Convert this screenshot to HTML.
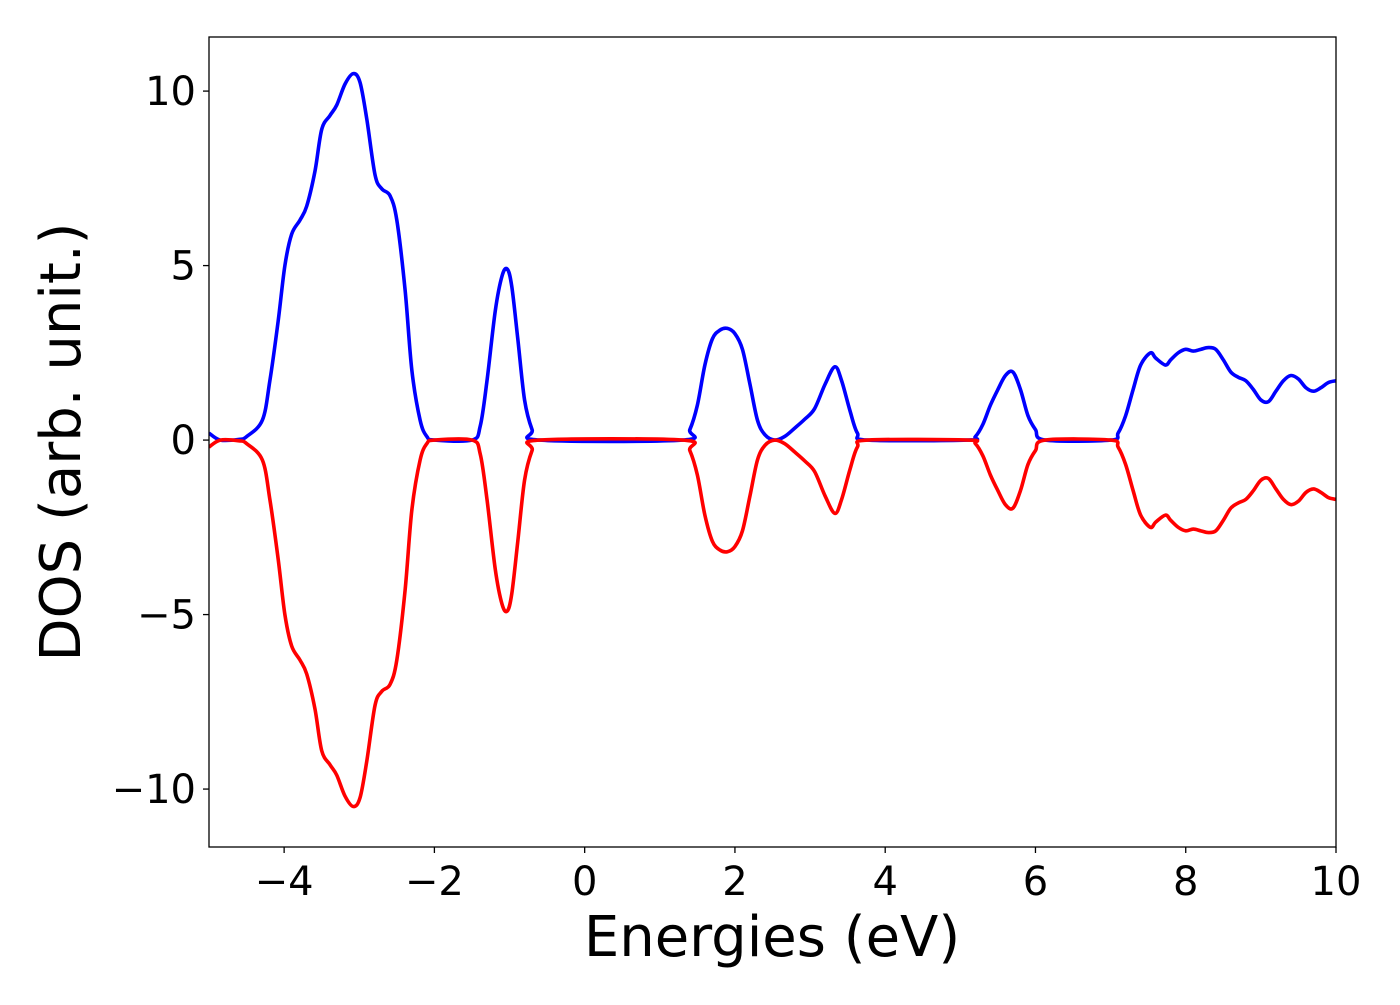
<!DOCTYPE html>
<html><head><meta charset="utf-8"><style>
html,body{margin:0;padding:0;background:#fff;}
svg text{font-family:"DejaVu Sans","Liberation Sans",sans-serif;fill:#000;}
</style></head><body>
<svg id="chart" width="1400" height="1000" viewBox="0 0 1400 1000" xmlns="http://www.w3.org/2000/svg">
<rect x="0" y="0" width="1400" height="1000" fill="#fff"/>
<g id="series"></g>
<rect x="209" y="37" width="1127" height="810" fill="none" stroke="#000" stroke-width="1.3"/>
<g id="xticks"></g>
<g id="yticks"></g>
<text x="772" y="956" font-size="56" text-anchor="middle">Energies (eV)</text>
<text transform="translate(80,442) rotate(-90)" font-size="56" text-anchor="middle">DOS (arb. unit.)</text>
</svg>
<script>
const energies = [-5,-4.85,-4.6,-4.5,-4.29,-4.19,-4.08,-3.99,-3.9,-3.79,-3.7,-3.59,-3.5,-3.39,-3.3,-3.19,-3.08,-2.99,-2.9,-2.79,-2.7,-2.59,-2.5,-2.39,-2.3,-2.19,-2.1,-2,-1.5,-1.39,-1.3,-1.19,-1.1,-1.03,-0.97,-0.89,-0.8,-0.7,-0.6,1.3,1.4,1.5,1.6,1.7,1.8,1.9,2.0,2.1,2.2,2.3,2.4,2.53,2.66,2.8,2.93,3.06,3.2,3.33,3.42,3.53,3.63,3.77,5.1,5.2,5.3,5.4,5.5,5.6,5.7,5.8,5.9,6.0,6.13,7.0,7.1,7.2,7.3,7.4,7.53,7.6,7.73,7.8,7.9,8.0,8.1,8.2,8.3,8.4,8.5,8.6,8.7,8.8,8.9,9.0,9.1,9.2,9.3,9.4,9.5,9.6,9.7,9.8,9.9,10];
const dosUp = [0.2,0,0.02,0.1,0.57,1.7,3.4,5.0,5.9,6.3,6.7,7.7,8.9,9.3,9.6,10.2,10.5,10.25,9.2,7.6,7.2,7.0,6.3,4.3,2.0,0.57,0.1,0,0,0.4,1.7,3.7,4.7,4.9,4.4,2.9,1.15,0.3,0,0,0.3,1.0,2.15,2.9,3.15,3.2,3.05,2.6,1.6,0.57,0.15,0,0.1,0.35,0.6,0.9,1.6,2.1,1.7,0.85,0.2,0,0,0.1,0.45,1.0,1.45,1.85,1.95,1.45,0.7,0.3,0,0,0.2,0.7,1.45,2.15,2.5,2.35,2.15,2.3,2.5,2.6,2.55,2.6,2.65,2.6,2.3,1.95,1.8,1.7,1.45,1.15,1.1,1.4,1.7,1.85,1.75,1.5,1.4,1.5,1.65,1.7];
const dosDown = [-0.2,0,-0.02,-0.1,-0.57,-1.7,-3.4,-5.0,-5.9,-6.3,-6.7,-7.7,-8.9,-9.3,-9.6,-10.2,-10.5,-10.25,-9.2,-7.6,-7.2,-7.0,-6.3,-4.3,-2.0,-0.57,-0.1,0,0,-0.4,-1.7,-3.7,-4.7,-4.9,-4.4,-2.9,-1.15,-0.3,0,0,-0.3,-1.0,-2.15,-2.9,-3.15,-3.2,-3.05,-2.6,-1.6,-0.57,-0.15,0,-0.1,-0.35,-0.6,-0.9,-1.6,-2.1,-1.7,-0.85,-0.2,0,0,-0.1,-0.45,-1.0,-1.45,-1.85,-1.95,-1.45,-0.7,-0.3,0,0,-0.2,-0.7,-1.45,-2.15,-2.5,-2.35,-2.15,-2.3,-2.5,-2.6,-2.55,-2.6,-2.65,-2.6,-2.3,-1.95,-1.8,-1.7,-1.45,-1.15,-1.1,-1.4,-1.7,-1.85,-1.75,-1.5,-1.4,-1.5,-1.65,-1.7];
const xTicks = [-4,-2,0,2,4,6,8,10];
const yTicks = [-10,-5,0,5,10];
const xTickLabels = ["\u22124","\u22122","0","2","4","6","8","10"];
const yTickLabels = ["\u221210","\u22125","0","5","10"];

const X0=209,X1=1336,Y0=37,Y1=847,XMIN=-5,XMAX=10,YMIN=-11.66,YMAX=11.55;
function sx(v){return X0+(v-XMIN)/(XMAX-XMIN)*(X1-X0);}
function sy(v){return Y1-(v-YMIN)/(YMAX-YMIN)*(Y1-Y0);}
const NS="http://www.w3.org/2000/svg";
function pathFor(xs,ys){
  const p=xs.map((x,i)=>[sx(x),sy(ys[i])]);
  let d="M"+p[0][0].toFixed(2)+","+p[0][1].toFixed(2);
  for(let i=0;i<p.length-1;i++){
    const a=p[Math.max(0,i-1)],b=p[i],c=p[i+1],e=p[Math.min(p.length-1,i+2)];
    const c1x=b[0]+(c[0]-a[0])/6,c1y=b[1]+(c[1]-a[1])/6;
    const c2x=c[0]-(e[0]-b[0])/6,c2y=c[1]-(e[1]-b[1])/6;
    d+=" C"+c1x.toFixed(2)+","+c1y.toFixed(2)+" "+c2x.toFixed(2)+","+c2y.toFixed(2)+" "+c[0].toFixed(2)+","+c[1].toFixed(2);
  }
  return d;
}
const g=document.getElementById("series");
const clip=document.createElementNS(NS,"clipPath");clip.setAttribute("id","pc");
const cr=document.createElementNS(NS,"rect");cr.setAttribute("x",X0);cr.setAttribute("y",Y0);cr.setAttribute("width",X1-X0);cr.setAttribute("height",Y1-Y0);
clip.appendChild(cr);g.appendChild(clip);
[[dosUp,"#0000ff","dos-spin-up-line"],[dosDown,"#ff0000","dos-spin-down-line"]].forEach(([ys,col,name])=>{
  const pa=document.createElementNS(NS,"path");
  pa.setAttribute("d",pathFor(energies,ys));
  pa.setAttribute("fill","none");pa.setAttribute("stroke",col);pa.setAttribute("stroke-width","3.6");
  pa.setAttribute("stroke-linejoin","round");pa.setAttribute("clip-path","url(#pc)");
  
  
  g.appendChild(pa);
});
const xg=document.getElementById("xticks");
xTicks.forEach((v,i)=>{
  const l=document.createElementNS(NS,"line");
  l.setAttribute("x1",sx(v));l.setAttribute("x2",sx(v));l.setAttribute("y1",Y1);l.setAttribute("y2",Y1+6);l.setAttribute("stroke","#000");l.setAttribute("stroke-width","1.3");
  
  
  xg.appendChild(l);
  const t=document.createElementNS(NS,"text");
  t.setAttribute("x",sx(v));t.setAttribute("y",Y1+48);t.setAttribute("font-size","40");t.setAttribute("text-anchor","middle");
  t.textContent=xTickLabels[i];
  
  
  xg.appendChild(t);
});
const yg=document.getElementById("yticks");
yTicks.forEach((v,i)=>{
  const l=document.createElementNS(NS,"line");
  l.setAttribute("x1",X0-6);l.setAttribute("x2",X0);l.setAttribute("y1",sy(v));l.setAttribute("y2",sy(v));l.setAttribute("stroke","#000");l.setAttribute("stroke-width","1.3");
  
  
  yg.appendChild(l);
  const t=document.createElementNS(NS,"text");
  t.setAttribute("x",X0-13);t.setAttribute("y",sy(v)+14);t.setAttribute("font-size","40");t.setAttribute("text-anchor","end");
  t.textContent=yTickLabels[i];
  
  
  yg.appendChild(t);
});
</script>
</body></html>
